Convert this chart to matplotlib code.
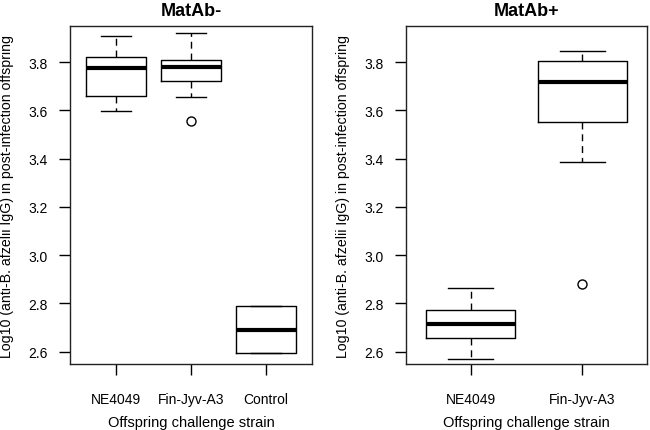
import matplotlib
matplotlib.use("Agg")
import matplotlib.pyplot as plt

plt.rcParams['font.family'] = ['Liberation Sans', 'DejaVu Sans']

# MatAb- panel (box stats)
left_groups = ["NE4049", "Fin-Jyv-A3", "Control"]
left_whislo = [3.597, 3.657, 2.593]
left_q1 = [3.659, 3.720, 2.593]
left_med = [3.776, 3.781, 2.690]
left_q3 = [3.823, 3.811, 2.789]
left_whishi = [3.910, 3.920, 2.789]
left_fliers = [[], [3.557], []]

# MatAb+ panel
right_groups = ["NE4049", "Fin-Jyv-A3"]
right_whislo = [2.570, 3.388]
right_q1 = [2.655, 3.551]
right_med = [2.715, 3.716]
right_q3 = [2.774, 3.804]
right_whishi = [2.865, 3.848]
right_fliers = [[], [2.881]]

yticks = [2.6, 2.8, 3.0, 3.2, 3.4, 3.6, 3.8]


def make_stats(groups, lo, q1, med, q3, hi, fl):
    stats = []
    for i in range(len(groups)):
        stats.append(dict(label=groups[i], whislo=lo[i], q1=q1[i], med=med[i],
                          q3=q3[i], whishi=hi[i], fliers=fl[i]))
    return stats


def draw_panel(ax, stats, title):
    n = len(stats)
    ax.bxp(stats, positions=range(1, n + 1), widths=0.8,
           boxprops=dict(color="black", linewidth=1),
           medianprops=dict(color="black", linewidth=3, solid_capstyle="butt"),
           whiskerprops=dict(color="black", linewidth=1, linestyle=(0, (5, 3.5))),
           capprops=dict(color="black", linewidth=1),
           flierprops=dict(marker="o", markerfacecolor="none", markeredgecolor="black",
                           markersize=6.5, markeredgewidth=1),
           capwidths=0.4)
    ext = n * 0.04
    ax.set_xlim(0.5 - ext, n + 0.5 + ext)
    ax.set_ylim(2.549, 3.95)
    ax.set_yticks(yticks)
    ax.set_yticklabels(["%.1f" % v for v in yticks])
    ax.set_xticks(range(1, n + 1))
    ax.set_xticklabels([s["label"] for s in stats])
    ax.tick_params(axis="x", length=8, width=1, pad=12, labelsize=10)
    ax.tick_params(axis="y", length=8, width=1, pad=8, labelsize=10)
    for sp in ax.spines.values():
        sp.set_linewidth(1)
        sp.set_color("#222222")
    ax.set_title(title, fontsize=13, fontweight="bold", pad=8)
    ax.set_xlabel("Offspring challenge strain", fontsize=10.5, labelpad=7)
    ax.set_ylabel("Log10 (anti-B. afzelii IgG) in post-infection offspring", fontsize=10.2)


fig = plt.figure(figsize=(6.5, 4.31), dpi=100)
ax1 = fig.add_axes([70 / 650, 66 / 431, 242 / 650, 338 / 431])
ax2 = fig.add_axes([406 / 650, 66 / 431, 241 / 650, 338 / 431])

draw_panel(ax1, make_stats(left_groups, left_whislo, left_q1, left_med, left_q3,
                           left_whishi, left_fliers), "MatAb-")
draw_panel(ax2, make_stats(right_groups, right_whislo, right_q1, right_med, right_q3,
                           right_whishi, right_fliers), "MatAb+")

ax1.yaxis.set_label_coords(-56 / 242, 0.5)
ax2.yaxis.set_label_coords(-56 / 241, 0.5)

fig.savefig("out.png", dpi=100)
